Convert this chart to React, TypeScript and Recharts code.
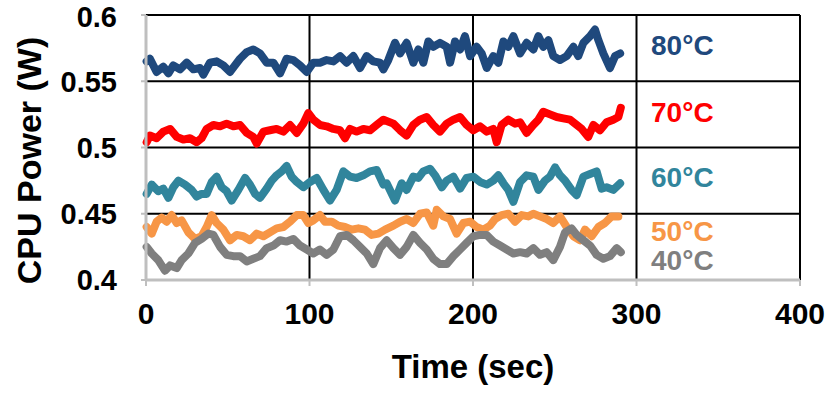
import React from 'react';
import {
  LineChart,
  Line,
  XAxis,
  YAxis,
  CartesianGrid,
  ReferenceDot,
  Label,
} from 'recharts';

// time (sec) and CPU power (W) for each temperature
const times80 = [0.4, 2.4, 6.5, 10.6, 13.7, 16.7, 20.8, 24.9, 29.0, 33.0, 35.1, 39.1, 43.2, 47.3, 51.4, 54.4, 57.5, 61.6, 65.6, 69.7, 73.8, 77.9, 82.0, 86.0, 90.1, 94.2, 98.3, 102.3, 106.4, 110.5, 114.6, 118.7, 122.7, 126.8, 130.9, 135.0, 139.0, 143.1, 145.2, 148.2, 152.3, 155.4, 159.4, 163.5, 166.6, 169.6, 172.7, 175.7, 179.8, 183.9, 186.0, 189.0, 192.1, 195.1, 198.2, 202.2, 205.3, 208.4, 212.4, 215.5, 218.6, 221.6, 224.7, 228.8, 232.8, 236.9, 240.0, 243.0, 246.1, 249.1, 253.2, 257.3, 261.4, 264.4, 267.5, 271.6, 274.6, 276.7, 279.7, 283.8, 286.9, 290.0];
const power80 = [0.565, 0.567, 0.557, 0.561, 0.556, 0.562, 0.559, 0.564, 0.559, 0.560, 0.555, 0.564, 0.565, 0.562, 0.557, 0.562, 0.567, 0.572, 0.574, 0.571, 0.564, 0.564, 0.556, 0.567, 0.566, 0.562, 0.557, 0.564, 0.564, 0.566, 0.565, 0.569, 0.564, 0.569, 0.560, 0.569, 0.565, 0.564, 0.559, 0.566, 0.579, 0.571, 0.579, 0.564, 0.574, 0.564, 0.580, 0.576, 0.579, 0.576, 0.564, 0.580, 0.574, 0.584, 0.569, 0.576, 0.571, 0.560, 0.569, 0.564, 0.580, 0.576, 0.584, 0.571, 0.579, 0.574, 0.584, 0.576, 0.581, 0.569, 0.566, 0.569, 0.576, 0.569, 0.579, 0.584, 0.589, 0.581, 0.571, 0.560, 0.569, 0.571];

const times70 = [0.4, 2.4, 6.5, 10.6, 14.7, 18.8, 22.8, 26.9, 31.0, 34.0, 37.1, 41.2, 45.3, 49.3, 53.4, 57.5, 61.6, 65.6, 67.7, 71.8, 75.8, 79.9, 84.0, 88.1, 92.2, 96.2, 99.3, 102.3, 106.4, 110.5, 114.6, 118.7, 121.7, 124.8, 128.8, 132.9, 137.0, 141.1, 145.2, 151.3, 155.4, 159.4, 163.5, 167.6, 171.7, 175.7, 179.8, 183.9, 188.0, 192.1, 196.1, 200.2, 204.3, 208.4, 212.4, 214.5, 217.5, 221.6, 225.7, 228.8, 232.8, 236.9, 240.0, 243.0, 247.1, 251.2, 255.2, 259.3, 263.4, 266.5, 270.5, 273.6, 277.7, 281.7, 285.8, 288.9, 290.4];
const power70 = [0.504, 0.509, 0.507, 0.512, 0.514, 0.508, 0.506, 0.507, 0.504, 0.507, 0.514, 0.517, 0.516, 0.518, 0.516, 0.517, 0.511, 0.508, 0.503, 0.512, 0.513, 0.514, 0.512, 0.517, 0.511, 0.518, 0.526, 0.521, 0.517, 0.516, 0.514, 0.513, 0.507, 0.514, 0.512, 0.514, 0.513, 0.517, 0.521, 0.518, 0.513, 0.509, 0.517, 0.521, 0.523, 0.517, 0.512, 0.518, 0.521, 0.523, 0.517, 0.513, 0.516, 0.512, 0.514, 0.504, 0.517, 0.521, 0.518, 0.519, 0.511, 0.517, 0.521, 0.527, 0.525, 0.523, 0.522, 0.521, 0.517, 0.514, 0.508, 0.517, 0.513, 0.519, 0.521, 0.523, 0.530];

const times60 = [0.4, 3.5, 7.5, 10.6, 13.7, 16.7, 19.8, 23.9, 27.9, 31.0, 34.0, 37.1, 40.2, 43.2, 46.3, 49.3, 52.4, 56.5, 60.6, 63.6, 66.7, 69.7, 73.8, 76.9, 79.9, 83.0, 86.0, 89.1, 92.2, 96.2, 100.3, 104.4, 108.5, 112.5, 116.6, 120.7, 124.8, 128.8, 132.9, 137.0, 141.1, 145.2, 147.2, 152.3, 156.4, 159.4, 163.5, 166.6, 169.6, 173.7, 176.8, 180.9, 183.9, 188.0, 192.1, 196.1, 200.2, 204.3, 208.4, 212.4, 215.5, 218.6, 221.6, 224.7, 228.8, 232.8, 236.9, 240.0, 244.0, 247.1, 250.2, 253.2, 256.3, 260.3, 263.4, 267.5, 271.6, 275.6, 278.7, 281.7, 285.8, 290.0];
const power60 = [0.465, 0.472, 0.467, 0.469, 0.462, 0.470, 0.475, 0.472, 0.468, 0.463, 0.465, 0.465, 0.474, 0.478, 0.470, 0.467, 0.460, 0.468, 0.477, 0.472, 0.465, 0.462, 0.469, 0.475, 0.479, 0.482, 0.486, 0.478, 0.474, 0.470, 0.474, 0.477, 0.468, 0.460, 0.468, 0.482, 0.478, 0.477, 0.479, 0.482, 0.483, 0.472, 0.473, 0.460, 0.473, 0.468, 0.478, 0.477, 0.482, 0.484, 0.479, 0.470, 0.475, 0.478, 0.469, 0.477, 0.478, 0.474, 0.472, 0.475, 0.479, 0.473, 0.468, 0.459, 0.474, 0.479, 0.478, 0.468, 0.475, 0.478, 0.485, 0.479, 0.475, 0.468, 0.464, 0.478, 0.480, 0.482, 0.469, 0.470, 0.468, 0.473];

const times50 = [0.4, 3.5, 6.5, 9.6, 12.6, 15.7, 18.8, 21.8, 25.9, 30.0, 34.0, 37.1, 40.2, 43.2, 47.3, 51.4, 55.5, 59.5, 63.6, 67.7, 71.8, 75.8, 79.9, 84.0, 88.1, 92.2, 96.2, 99.3, 102.3, 106.4, 109.5, 113.6, 117.6, 121.7, 125.8, 129.9, 133.9, 138.0, 142.1, 146.2, 151.3, 155.4, 159.4, 163.5, 167.6, 171.7, 175.7, 177.8, 181.9, 186.0, 190.0, 194.1, 198.2, 202.2, 206.3, 210.4, 213.5, 217.5, 221.6, 225.7, 229.8, 233.8, 236.9, 241.0, 245.1, 249.1, 253.2, 257.3, 261.4, 265.5, 268.5, 272.6, 276.7, 280.7, 284.8, 288.9];
const power50 = [0.440, 0.435, 0.444, 0.447, 0.444, 0.449, 0.443, 0.445, 0.436, 0.431, 0.433, 0.440, 0.449, 0.443, 0.438, 0.430, 0.434, 0.433, 0.430, 0.435, 0.433, 0.436, 0.439, 0.440, 0.444, 0.449, 0.449, 0.443, 0.445, 0.449, 0.444, 0.444, 0.441, 0.440, 0.438, 0.439, 0.438, 0.434, 0.435, 0.438, 0.441, 0.444, 0.446, 0.443, 0.450, 0.451, 0.441, 0.453, 0.448, 0.446, 0.435, 0.443, 0.444, 0.440, 0.438, 0.441, 0.446, 0.449, 0.450, 0.444, 0.449, 0.448, 0.450, 0.448, 0.446, 0.443, 0.448, 0.440, 0.433, 0.430, 0.438, 0.433, 0.440, 0.443, 0.448, 0.448];

const times40 = [0.4, 3.5, 7.5, 11.6, 14.7, 18.8, 21.8, 25.9, 30.0, 34.0, 38.1, 41.2, 45.3, 49.3, 53.4, 57.5, 61.6, 65.6, 69.7, 73.8, 77.9, 82.0, 86.0, 90.1, 94.2, 98.3, 102.3, 106.4, 110.5, 114.6, 118.7, 122.7, 126.8, 130.9, 135.0, 139.0, 143.1, 147.2, 151.3, 155.4, 159.4, 163.5, 167.6, 171.7, 175.7, 179.8, 183.9, 188.0, 192.1, 196.1, 200.2, 204.3, 208.4, 212.4, 216.5, 220.6, 224.7, 228.8, 232.8, 236.9, 241.0, 245.1, 249.1, 253.2, 256.3, 260.3, 263.4, 267.5, 271.6, 275.6, 279.7, 283.8, 287.9, 290.4];
const power40 = [0.425, 0.420, 0.415, 0.407, 0.411, 0.409, 0.415, 0.420, 0.428, 0.431, 0.435, 0.434, 0.425, 0.419, 0.418, 0.418, 0.414, 0.416, 0.418, 0.424, 0.426, 0.430, 0.429, 0.431, 0.426, 0.423, 0.420, 0.423, 0.419, 0.423, 0.433, 0.434, 0.430, 0.425, 0.420, 0.412, 0.424, 0.430, 0.424, 0.419, 0.425, 0.434, 0.428, 0.423, 0.416, 0.412, 0.412, 0.418, 0.423, 0.428, 0.433, 0.434, 0.434, 0.429, 0.426, 0.423, 0.420, 0.421, 0.420, 0.424, 0.419, 0.421, 0.415, 0.425, 0.436, 0.439, 0.434, 0.430, 0.426, 0.419, 0.416, 0.418, 0.424, 0.421];

const xTicks = [0, 100, 200, 300, 400];
const yTicks = [0.4, 0.45, 0.5, 0.55, 0.6];

// label text and where it sits (data coords of its left-middle point)
const seriesNames = ['80°C', '70°C', '60°C', '50°C', '40°C'];
const seriesColors = ['#1F497D', '#FF0000', '#31859C', '#F79646', '#7F7F7F'];
const labelX = 308.9;
const labelY = [0.577, 0.5271, 0.478, 0.4373, 0.4147];

const FONT = '"Liberation Sans", Arial, sans-serif';

const toPoints = (times: number[], power: number[]) =>
  times.map((t, i) => ({ t, v: power[i] }));

const series = [
  toPoints(times80, power80),
  toPoints(times70, power70),
  toPoints(times60, power60),
  toPoints(times50, power50),
  toPoints(times40, power40),
];

const YTitle = (props: any) => {
  const vb = props.viewBox || { x: 0, y: 15, height: 265 };
  const cx = vb.x + 41;
  const cy = vb.y + vb.height / 2 + 13;
  return (
    <text
      transform={`translate(${cx},${cy}) rotate(-90)`}
      textAnchor="middle"
      fill="#000"
      fontSize={34}
      fontWeight={700}
      fontFamily={FONT}
    >
      CPU Power (W)
    </text>
  );
};

export default function App() {
  return (
    <div style={{ position: 'absolute', left: 0, top: 0, background: '#fff' }}>
      <LineChart
        width={832}
        height={396}
        margin={{ top: 15, right: 32, left: 0, bottom: 0 }}
        style={{ fontFamily: FONT }}
      >
        <CartesianGrid stroke="#000" strokeWidth={2} />
        <XAxis
          type="number"
          dataKey="t"
          domain={[0, 400]}
          ticks={xTicks}
          allowDuplicatedCategory={false}
          height={116}
          stroke="#BFBFBF"
          strokeWidth={3}
          tickSize={6}
          tickMargin={17}
          tickLine={{ stroke: '#BFBFBF', strokeWidth: 2 }}
          tick={{ fill: '#000', fontSize: 30, fontWeight: 700, fontFamily: FONT }}
        >
          <Label
            value="Time (sec)"
            position="insideBottom"
            offset={18}
            fill="#000"
            fontSize={33}
            fontWeight={700}
            fontFamily={FONT}
          />
        </XAxis>
        <YAxis
          type="number"
          domain={[0.4, 0.6]}
          ticks={yTicks}
          width={146}
          stroke="#BFBFBF"
          strokeWidth={3}
          tickSize={5}
          tickMargin={24}
          tickLine={{ stroke: '#BFBFBF', strokeWidth: 2 }}
          tick={{ fill: '#000', fontSize: 29, fontWeight: 700, fontFamily: FONT }}
        >
          <Label content={YTitle} />
        </YAxis>
        {series.map((pts, i) => (
          <Line
            key={seriesNames[i]}
            data={pts}
            dataKey="v"
            type="linear"
            stroke={seriesColors[i]}
            strokeWidth={8}
            strokeLinejoin="round"
            strokeLinecap="round"
            dot={false}
            activeDot={false}
            isAnimationActive={false}
          />
        ))}
        {seriesNames.map((name, i) => (
          <ReferenceDot
            key={name}
            x={labelX}
            y={labelY[i]}
            r={0}
            fill="none"
            stroke="none"
            label={{
              value: name,
              position: 'right',
              offset: 0,
              fill: seriesColors[i],
              fontSize: 28,
              fontWeight: 700,
              fontFamily: FONT,
            }}
          />
        ))}
      </LineChart>
    </div>
  );
}
